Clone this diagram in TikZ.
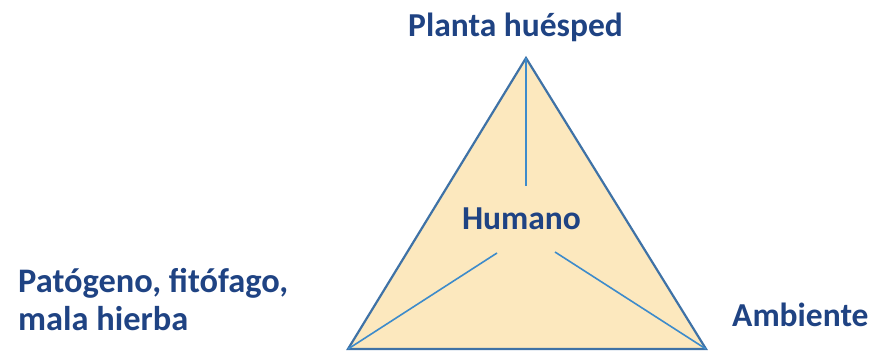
\documentclass[tikz,border=0pt]{standalone}
\usepackage{fontspec}
\setmainfont{Carlito}
\definecolor{txtblue}{HTML}{1F4383}
\definecolor{edgeblue}{HTML}{3F72A6}
\definecolor{innerblue}{HTML}{3D8BCB}
\definecolor{fillyel}{HTML}{FCE8BE}
\begin{document}
\begin{tikzpicture}[x=1pt,y=-1pt,
  lbl/.style={text=txtblue,font=\bfseries\fontsize{33.5}{37}\selectfont,inner sep=0pt},
  spoke/.style={innerblue,line width=1.6pt}]
\useasboundingbox (0,0) rectangle (869,352);
\coordinate (A) at (526,58);
\coordinate (B) at (348,349);
\coordinate (C) at (706,349);
\coordinate (a) at (526,186);
\coordinate (b) at (497,253);
\coordinate (c) at (555,252);
\draw[fill=fillyel,draw=edgeblue,line width=2.2pt,line join=miter] (A) -- (B) -- (C) -- cycle;
\draw[spoke] (A) -- (a);
\draw[spoke] (B) -- (b);
\draw[spoke] (C) -- (c);
\node[lbl,anchor=base] (h) at (521.5,230) {Humano};
\node[lbl,anchor=base west] (p) at (408,37) {Planta huésped};
\node[lbl,anchor=base west,align=left,font=\bfseries\fontsize{34.4}{37}\selectfont] (g) at (18,330) {Patógeno, fitófago,\\mala hierba};
\node[lbl,anchor=base west] (e) at (732,326) {Ambiente};
\end{tikzpicture}
\end{document}
